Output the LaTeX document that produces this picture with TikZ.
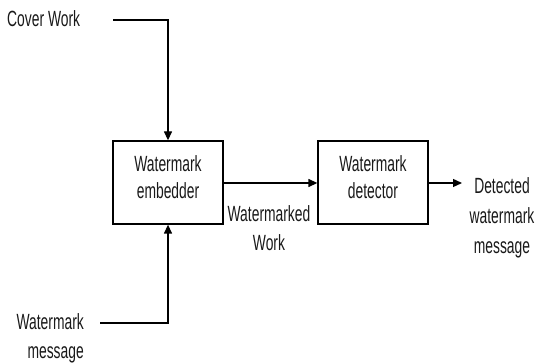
\documentclass[tikz,border=0pt]{standalone}
\usepackage{fontspec}
\setmainfont{Liberation Sans}[FakeStretch=0.63]
\usetikzlibrary{arrows.meta}
\begin{document}
\begin{tikzpicture}[x=1pt,y=-1pt,
  lbl/.style={inner sep=0pt,font=\fontsize{22}{29}\selectfont,text=black!90},
  blk/.style={draw,line width=1.3pt,minimum width=110pt,minimum height=83pt,inner sep=0pt},
  blktxt/.style={inner sep=0pt,align=center,font=\fontsize{22}{27}\selectfont,text=black!90},
  conn/.style={line width=1.3pt},
  arr/.style={conn,-{Triangle[length=9pt,width=8pt]}}]
\useasboundingbox (0,0) rectangle (536,363);
\node[lbl,anchor=west] (cover) at (7,19) {Cover Work};
\coordinate (cstart) at (113,20);
\node[blk] (emb) at (168,182.5) {};
\node[blktxt] (embt) at (168,177) {Watermark\\embedder};
\node[blk] (det) at (373,182.5) {};
\node[blktxt] (dett) at (373,177) {Watermark\\detector};
\node[lbl,align=center] (wmw) at (269,228) {Watermarked\\Work};
\node[lbl,align=center,font=\fontsize{22}{30}\selectfont] (out) at (502,218) {Detected\\watermark\\message};
\coordinate (outend) at (462,183);
\node[lbl,align=right,anchor=east] (msg) at (84,338) {Watermark\\message};
\coordinate (mstart) at (100,323);
\draw[arr] (cstart) -| (emb.north);
\draw[arr] (mstart) -| (emb.south);
\draw[arr] (emb.east |- 0,183) -- (det.west |- 0,183);
\draw[arr] (det.east |- 0,183) -- (outend);
\end{tikzpicture}
\end{document}
